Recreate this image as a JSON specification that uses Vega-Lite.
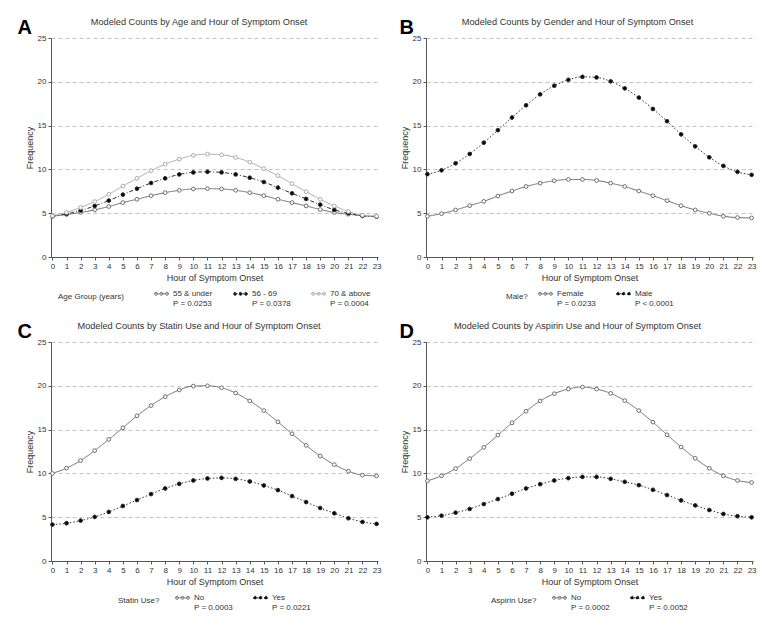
{
"$schema": "https://vega.github.io/schema/vega-lite/v6.json",
"padding": {"left": 17, "top": 17, "right": 5, "bottom": 5},
"config": {
  "font": "Liberation Sans",
  "view": {"stroke": null},
  "axis": {"labelFont": "Liberation Sans", "titleFont": "Liberation Sans", "labelColor": "#333", "titleColor": "#333", "domainColor": "#555", "tickColor": "#555", "labelFontSize": 8, "titleFontSize": 9, "titleFontWeight": "normal"},
  "legend": {"labelFont": "Liberation Sans", "titleFont": "Liberation Sans", "labelColor": "#333", "titleColor": "#333", "labelFontSize": 8, "titleFontSize": 8, "titleFontWeight": "normal", "layout": {"bottom": {"anchor": "middle"}}},
  "title": {"font": "Liberation Sans"},
  "line": {"interpolate": "monotone"}
},
"datasets": {
  "age": [
    {"hour":0,"group":"55 & under","count":4.66},{"hour":1,"group":"55 & under","count":4.85},{"hour":2,"group":"55 & under","count":5.08},{"hour":3,"group":"55 & under","count":5.38},{"hour":4,"group":"55 & under","count":5.76},{"hour":5,"group":"55 & under","count":6.21},{"hour":6,"group":"55 & under","count":6.59},{"hour":7,"group":"55 & under","count":7.0},{"hour":8,"group":"55 & under","count":7.35},{"hour":9,"group":"55 & under","count":7.61},{"hour":10,"group":"55 & under","count":7.77},{"hour":11,"group":"55 & under","count":7.8},{"hour":12,"group":"55 & under","count":7.77},{"hour":13,"group":"55 & under","count":7.61},{"hour":14,"group":"55 & under","count":7.35},{"hour":15,"group":"55 & under","count":7.0},{"hour":16,"group":"55 & under","count":6.59},{"hour":17,"group":"55 & under","count":6.21},{"hour":18,"group":"55 & under","count":5.83},{"hour":19,"group":"55 & under","count":5.42},{"hour":20,"group":"55 & under","count":5.08},{"hour":21,"group":"55 & under","count":4.89},{"hour":22,"group":"55 & under","count":4.7},{"hour":23,"group":"55 & under","count":4.62},
    {"hour":0,"group":"56 - 69","count":4.66},{"hour":1,"group":"56 - 69","count":4.92},{"hour":2,"group":"56 - 69","count":5.3},{"hour":3,"group":"56 - 69","count":5.83},{"hour":4,"group":"56 - 69","count":6.44},{"hour":5,"group":"56 - 69","count":7.12},{"hour":6,"group":"56 - 69","count":7.8},{"hour":7,"group":"56 - 69","count":8.45},{"hour":8,"group":"56 - 69","count":8.98},{"hour":9,"group":"56 - 69","count":9.43},{"hour":10,"group":"56 - 69","count":9.66},{"hour":11,"group":"56 - 69","count":9.73},{"hour":12,"group":"56 - 69","count":9.66},{"hour":13,"group":"56 - 69","count":9.43},{"hour":14,"group":"56 - 69","count":9.05},{"hour":15,"group":"56 - 69","count":8.56},{"hour":16,"group":"56 - 69","count":7.92},{"hour":17,"group":"56 - 69","count":7.27},{"hour":18,"group":"56 - 69","count":6.63},{"hour":19,"group":"56 - 69","count":5.98},{"hour":20,"group":"56 - 69","count":5.38},{"hour":21,"group":"56 - 69","count":5.0},{"hour":22,"group":"56 - 69","count":4.7},{"hour":23,"group":"56 - 69","count":4.62},
    {"hour":0,"group":"70 & above","count":4.7},{"hour":1,"group":"70 & above","count":5.08},{"hour":2,"group":"70 & above","count":5.64},{"hour":3,"group":"70 & above","count":6.33},{"hour":4,"group":"70 & above","count":7.16},{"hour":5,"group":"70 & above","count":8.1},{"hour":6,"group":"70 & above","count":8.98},{"hour":7,"group":"70 & above","count":9.85},{"hour":8,"group":"70 & above","count":10.6},{"hour":9,"group":"70 & above","count":11.17},{"hour":10,"group":"70 & above","count":11.6},{"hour":11,"group":"70 & above","count":11.74},{"hour":12,"group":"70 & above","count":11.67},{"hour":13,"group":"70 & above","count":11.36},{"hour":14,"group":"70 & above","count":10.83},{"hour":15,"group":"70 & above","count":10.08},{"hour":16,"group":"70 & above","count":9.28},{"hour":17,"group":"70 & above","count":8.37},{"hour":18,"group":"70 & above","count":7.46},{"hour":19,"group":"70 & above","count":6.59},{"hour":20,"group":"70 & above","count":5.83},{"hour":21,"group":"70 & above","count":5.19},{"hour":22,"group":"70 & above","count":4.77},{"hour":23,"group":"70 & above","count":4.66}
  ],
  "gender": [
    {"hour":0,"group":"Female","count":4.65},{"hour":1,"group":"Female","count":4.95},{"hour":2,"group":"Female","count":5.37},{"hour":3,"group":"Female","count":5.86},{"hour":4,"group":"Female","count":6.35},{"hour":5,"group":"Female","count":6.96},{"hour":6,"group":"Female","count":7.53},{"hour":7,"group":"Female","count":8.05},{"hour":8,"group":"Female","count":8.43},{"hour":9,"group":"Female","count":8.7},{"hour":10,"group":"Female","count":8.85},{"hour":11,"group":"Female","count":8.85},{"hour":12,"group":"Female","count":8.74},{"hour":13,"group":"Female","count":8.43},{"hour":14,"group":"Female","count":8.05},{"hour":15,"group":"Female","count":7.53},{"hour":16,"group":"Female","count":7.0},{"hour":17,"group":"Female","count":6.43},{"hour":18,"group":"Female","count":5.86},{"hour":19,"group":"Female","count":5.37},{"hour":20,"group":"Female","count":4.99},{"hour":21,"group":"Female","count":4.65},{"hour":22,"group":"Female","count":4.5},{"hour":23,"group":"Female","count":4.46},
    {"hour":0,"group":"Male","count":9.46},{"hour":1,"group":"Male","count":9.9},{"hour":2,"group":"Male","count":10.7},{"hour":3,"group":"Male","count":11.76},{"hour":4,"group":"Male","count":13.05},{"hour":5,"group":"Male","count":14.48},{"hour":6,"group":"Male","count":15.92},{"hour":7,"group":"Male","count":17.32},{"hour":8,"group":"Male","count":18.57},{"hour":9,"group":"Male","count":19.55},{"hour":10,"group":"Male","count":20.23},{"hour":11,"group":"Male","count":20.57},{"hour":12,"group":"Male","count":20.5},{"hour":13,"group":"Male","count":20.05},{"hour":14,"group":"Male","count":19.25},{"hour":15,"group":"Male","count":18.2},{"hour":16,"group":"Male","count":16.9},{"hour":17,"group":"Male","count":15.5},{"hour":18,"group":"Male","count":14.0},{"hour":19,"group":"Male","count":12.63},{"hour":20,"group":"Male","count":11.38},{"hour":21,"group":"Male","count":10.4},{"hour":22,"group":"Male","count":9.72},{"hour":23,"group":"Male","count":9.38}
  ],
  "statin": [
    {"hour":0,"group":"No","count":10.0},{"hour":1,"group":"No","count":10.6},{"hour":2,"group":"No","count":11.46},{"hour":3,"group":"No","count":12.6},{"hour":4,"group":"No","count":13.88},{"hour":5,"group":"No","count":15.2},{"hour":6,"group":"No","count":16.57},{"hour":7,"group":"No","count":17.74},{"hour":8,"group":"No","count":18.76},{"hour":9,"group":"No","count":19.52},{"hour":10,"group":"No","count":19.97},{"hour":11,"group":"No","count":20.0},{"hour":12,"group":"No","count":19.78},{"hour":13,"group":"No","count":19.17},{"hour":14,"group":"No","count":18.27},{"hour":15,"group":"No","count":17.17},{"hour":16,"group":"No","count":15.88},{"hour":17,"group":"No","count":14.52},{"hour":18,"group":"No","count":13.2},{"hour":19,"group":"No","count":11.99},{"hour":20,"group":"No","count":11.0},{"hour":21,"group":"No","count":10.25},{"hour":22,"group":"No","count":9.8},{"hour":23,"group":"No","count":9.72},
    {"hour":0,"group":"Yes","count":4.16},{"hour":1,"group":"Yes","count":4.31},{"hour":2,"group":"Yes","count":4.61},{"hour":3,"group":"Yes","count":5.03},{"hour":4,"group":"Yes","count":5.6},{"hour":5,"group":"Yes","count":6.28},{"hour":6,"group":"Yes","count":6.96},{"hour":7,"group":"Yes","count":7.64},{"hour":8,"group":"Yes","count":8.28},{"hour":9,"group":"Yes","count":8.81},{"hour":10,"group":"Yes","count":9.19},{"hour":11,"group":"Yes","count":9.42},{"hour":12,"group":"Yes","count":9.49},{"hour":13,"group":"Yes","count":9.38},{"hour":14,"group":"Yes","count":9.08},{"hour":15,"group":"Yes","count":8.62},{"hour":16,"group":"Yes","count":8.09},{"hour":17,"group":"Yes","count":7.41},{"hour":18,"group":"Yes","count":6.73},{"hour":19,"group":"Yes","count":6.05},{"hour":20,"group":"Yes","count":5.45},{"hour":21,"group":"Yes","count":4.88},{"hour":22,"group":"Yes","count":4.46},{"hour":23,"group":"Yes","count":4.24}
  ],
  "aspirin": [
    {"hour":0,"group":"No","count":9.15},{"hour":1,"group":"No","count":9.72},{"hour":2,"group":"No","count":10.55},{"hour":3,"group":"No","count":11.69},{"hour":4,"group":"No","count":12.97},{"hour":5,"group":"No","count":14.37},{"hour":6,"group":"No","count":15.77},{"hour":7,"group":"No","count":17.1},{"hour":8,"group":"No","count":18.27},{"hour":9,"group":"No","count":19.1},{"hour":10,"group":"No","count":19.63},{"hour":11,"group":"No","count":19.86},{"hour":12,"group":"No","count":19.63},{"hour":13,"group":"No","count":19.14},{"hour":14,"group":"No","count":18.31},{"hour":15,"group":"No","count":17.17},{"hour":16,"group":"No","count":15.85},{"hour":17,"group":"No","count":14.41},{"hour":18,"group":"No","count":13.01},{"hour":19,"group":"No","count":11.72},{"hour":20,"group":"No","count":10.59},{"hour":21,"group":"No","count":9.72},{"hour":22,"group":"No","count":9.19},{"hour":23,"group":"No","count":8.96},
    {"hour":0,"group":"Yes","count":4.99},{"hour":1,"group":"Yes","count":5.18},{"hour":2,"group":"Yes","count":5.52},{"hour":3,"group":"Yes","count":5.94},{"hour":4,"group":"Yes","count":6.5},{"hour":5,"group":"Yes","count":7.07},{"hour":6,"group":"Yes","count":7.68},{"hour":7,"group":"Yes","count":8.28},{"hour":8,"group":"Yes","count":8.77},{"hour":9,"group":"Yes","count":9.19},{"hour":10,"group":"Yes","count":9.46},{"hour":11,"group":"Yes","count":9.6},{"hour":12,"group":"Yes","count":9.6},{"hour":13,"group":"Yes","count":9.38},{"hour":14,"group":"Yes","count":9.04},{"hour":15,"group":"Yes","count":8.66},{"hour":16,"group":"Yes","count":8.13},{"hour":17,"group":"Yes","count":7.53},{"hour":18,"group":"Yes","count":6.92},{"hour":19,"group":"Yes","count":6.35},{"hour":20,"group":"Yes","count":5.82},{"hour":21,"group":"Yes","count":5.37},{"hour":22,"group":"Yes","count":5.11},{"hour":23,"group":"Yes","count":4.99}
  ]
},
"spacing": 13,
"resolve": {"scale": {"x": "independent", "y": "independent", "stroke": "independent", "fill": "independent", "strokeDash": "independent"}, "legend": {"stroke": "independent", "fill": "independent"}},
"vconcat": [
 {"hconcat": [
  {
   "width": 327, "height": 219,
   "data": {"name": "age"},
   "title": {"text": "Modeled Counts by Age and Hour of Symptom Onset", "anchor": "middle", "frame": "bounds", "fontSize": 9.2, "fontWeight": "normal", "color": "#333", "offset": -10},
   "encoding": {
     "x": {"field": "hour", "type": "quantitative", "scale": {"domain": [-0.1, 23.1], "nice": false, "zero": false}, "axis": {"values": [0,1,2,3,4,5,6,7,8,9,10,11,12,13,14,15,16,17,18,19,20,21,22,23], "title": "Hour of Symptom Onset", "grid": false, "tickSize": 3, "labelPadding": 2, "titlePadding": 3, "labelFlush": false, "labelOverlap": false}},
     "y": {"field": "count", "type": "quantitative", "scale": {"domain": [0, 25], "nice": false}, "axis": {"values": [0,5,10,15,20,25], "title": "Frequency", "grid": true, "gridDash": [4,3], "gridColor": "#c4c4c4", "tickSize": 3, "labelPadding": 2, "titlePadding": 3}}
   },
   "layer": [
     {"mark": {"type": "line", "strokeWidth": 1},
      "encoding": {
        "stroke": {"field": "group", "type": "nominal", "scale": {"domain": ["55 & under", "56 - 69", "70 & above"], "range": ["#6e6e6e", "#333333", "#ababab"]}, "legend": {"title": "Age Group (years)", "orient": "bottom", "direction": "horizontal", "titleOrient": "left", "titlePadding": 30, "offset": 4, "columnPadding": 18, "symbolType": "M-1,0H1M-0.56,0A0.22,0.22,0,1,1,-1,0A0.22,0.22,0,1,1,-0.56,0ZM0.22,0A0.22,0.22,0,1,1,-0.22,0A0.22,0.22,0,1,1,0.22,0ZM1,0A0.22,0.22,0,1,1,0.56,0A0.22,0.22,0,1,1,1,0Z", "symbolSize": 196, "symbolStrokeWidth": 1, "labelExpr": "datum.label == '55 & under' ? ['55 & under', 'P = 0.0253'] : datum.label == '56 - 69' ? ['56 - 69', 'P = 0.0378'] : ['70 & above', 'P = 0.0004']"}},
        "strokeDash": {"field": "group", "type": "nominal", "scale": {"domain": ["55 & under", "56 - 69", "70 & above"], "range": [[1,0],[4,2,1,2],[1,0]]}, "legend": null}
      }},
     {"mark": {"type": "point", "shape": "circle", "size": 14, "strokeWidth": 1, "opacity": 1},
      "encoding": {
        "x": {"field": "hour", "type": "quantitative", "axis": {"orient": "top", "title": "A", "labels": false, "ticks": false, "domain": false, "grid": false, "titleFontSize": 20, "titleFontWeight": "bold", "titleColor": "black", "titleAnchor": "start", "titleAlign": "left", "titleBaseline": "alphabetic", "titleX": -34, "titleY": -5}},
        "stroke": {"field": "group", "type": "nominal", "scale": {"domain": ["55 & under", "56 - 69", "70 & above"], "range": ["#6e6e6e", "#333333", "#ababab"]}, "legend": {"title": "Age Group (years)", "orient": "bottom", "direction": "horizontal", "titleOrient": "left", "titlePadding": 30, "offset": 4, "columnPadding": 18, "symbolType": "M-1,0H1M-0.56,0A0.22,0.22,0,1,1,-1,0A0.22,0.22,0,1,1,-0.56,0ZM0.22,0A0.22,0.22,0,1,1,-0.22,0A0.22,0.22,0,1,1,0.22,0ZM1,0A0.22,0.22,0,1,1,0.56,0A0.22,0.22,0,1,1,1,0Z", "symbolSize": 196, "symbolStrokeWidth": 1, "labelExpr": "datum.label == '55 & under' ? ['55 & under', 'P = 0.0253'] : datum.label == '56 - 69' ? ['56 - 69', 'P = 0.0378'] : ['70 & above', 'P = 0.0004']"}},
        "fill": {"field": "group", "type": "nominal", "scale": {"domain": ["55 & under", "56 - 69", "70 & above"], "range": ["#ffffff", "#000000", "#ffffff"]}, "legend": {"title": "Age Group (years)", "orient": "bottom", "direction": "horizontal", "titleOrient": "left", "titlePadding": 30, "offset": 4, "columnPadding": 18, "symbolType": "M-1,0H1M-0.56,0A0.22,0.22,0,1,1,-1,0A0.22,0.22,0,1,1,-0.56,0ZM0.22,0A0.22,0.22,0,1,1,-0.22,0A0.22,0.22,0,1,1,0.22,0ZM1,0A0.22,0.22,0,1,1,0.56,0A0.22,0.22,0,1,1,1,0Z", "symbolSize": 196, "symbolStrokeWidth": 1, "labelExpr": "datum.label == '55 & under' ? ['55 & under', 'P = 0.0253'] : datum.label == '56 - 69' ? ['56 - 69', 'P = 0.0378'] : ['70 & above', 'P = 0.0004']"}}
      }}
   ],
   "resolve": {"axis": {"x": "independent"}}
  },
  {
   "width": 327, "height": 219,
   "data": {"name": "gender"},
   "title": {"text": "Modeled Counts by Gender and Hour of Symptom Onset", "anchor": "middle", "frame": "bounds", "fontSize": 9.2, "fontWeight": "normal", "color": "#333", "offset": -10},
   "encoding": {
     "x": {"field": "hour", "type": "quantitative", "scale": {"domain": [-0.1, 23.1], "nice": false, "zero": false}, "axis": {"values": [0,1,2,3,4,5,6,7,8,9,10,11,12,13,14,15,16,17,18,19,20,21,22,23], "title": "Hour of Symptom Onset", "grid": false, "tickSize": 3, "labelPadding": 2, "titlePadding": 3, "labelFlush": false, "labelOverlap": false}},
     "y": {"field": "count", "type": "quantitative", "scale": {"domain": [0, 25], "nice": false}, "axis": {"values": [0,5,10,15,20,25], "title": "Frequency", "grid": true, "gridDash": [4,3], "gridColor": "#c4c4c4", "tickSize": 3, "labelPadding": 2, "titlePadding": 3}}
   },
   "layer": [
     {"mark": {"type": "line", "strokeWidth": 1},
      "encoding": {
        "stroke": {"field": "group", "type": "nominal", "scale": {"domain": ["Female", "Male"], "range": ["#6e6e6e", "#333333"]}, "legend": {"title": "Male?", "orient": "bottom", "direction": "horizontal", "titleOrient": "left", "titlePadding": 10, "offset": 4, "columnPadding": 18, "symbolType": "M-1,0H1M-0.56,0A0.22,0.22,0,1,1,-1,0A0.22,0.22,0,1,1,-0.56,0ZM0.22,0A0.22,0.22,0,1,1,-0.22,0A0.22,0.22,0,1,1,0.22,0ZM1,0A0.22,0.22,0,1,1,0.56,0A0.22,0.22,0,1,1,1,0Z", "symbolSize": 196, "symbolStrokeWidth": 1, "labelExpr": "datum.label == 'Female' ? ['Female', 'P = 0.0233'] : ['Male', 'P < 0.0001']"}},
        "strokeDash": {"field": "group", "type": "nominal", "scale": {"domain": ["Female", "Male"], "range": [[1,0],[1.5,2]]}, "legend": null}
      }},
     {"mark": {"type": "point", "shape": "circle", "size": 14, "strokeWidth": 1, "opacity": 1},
      "encoding": {
        "x": {"field": "hour", "type": "quantitative", "axis": {"orient": "top", "title": "B", "labels": false, "ticks": false, "domain": false, "grid": false, "titleFontSize": 20, "titleFontWeight": "bold", "titleColor": "black", "titleAnchor": "start", "titleAlign": "left", "titleBaseline": "alphabetic", "titleX": -27, "titleY": -5}},
        "stroke": {"field": "group", "type": "nominal", "scale": {"domain": ["Female", "Male"], "range": ["#6e6e6e", "#333333"]}, "legend": {"title": "Male?", "orient": "bottom", "direction": "horizontal", "titleOrient": "left", "titlePadding": 10, "offset": 4, "columnPadding": 18, "symbolType": "M-1,0H1M-0.56,0A0.22,0.22,0,1,1,-1,0A0.22,0.22,0,1,1,-0.56,0ZM0.22,0A0.22,0.22,0,1,1,-0.22,0A0.22,0.22,0,1,1,0.22,0ZM1,0A0.22,0.22,0,1,1,0.56,0A0.22,0.22,0,1,1,1,0Z", "symbolSize": 196, "symbolStrokeWidth": 1, "labelExpr": "datum.label == 'Female' ? ['Female', 'P = 0.0233'] : ['Male', 'P < 0.0001']"}},
        "fill": {"field": "group", "type": "nominal", "scale": {"domain": ["Female", "Male"], "range": ["#ffffff", "#000000"]}, "legend": {"title": "Male?", "orient": "bottom", "direction": "horizontal", "titleOrient": "left", "titlePadding": 10, "offset": 4, "columnPadding": 18, "symbolType": "M-1,0H1M-0.56,0A0.22,0.22,0,1,1,-1,0A0.22,0.22,0,1,1,-0.56,0ZM0.22,0A0.22,0.22,0,1,1,-0.22,0A0.22,0.22,0,1,1,0.22,0ZM1,0A0.22,0.22,0,1,1,0.56,0A0.22,0.22,0,1,1,1,0Z", "symbolSize": 196, "symbolStrokeWidth": 1, "labelExpr": "datum.label == 'Female' ? ['Female', 'P = 0.0233'] : ['Male', 'P < 0.0001']"}}
      }}
   ],
   "resolve": {"axis": {"x": "independent"}}
  }
 ], "spacing": 17,
 "resolve": {"scale": {"x": "independent", "y": "independent", "stroke": "independent", "fill": "independent", "strokeDash": "independent"}, "legend": {"stroke": "independent", "fill": "independent"}}},
 {"hconcat": [
  {
   "width": 327, "height": 219,
   "data": {"name": "statin"},
   "title": {"text": "Modeled Counts by Statin Use and Hour of Symptom Onset", "anchor": "middle", "frame": "bounds", "fontSize": 9.2, "fontWeight": "normal", "color": "#333", "offset": -10},
   "encoding": {
     "x": {"field": "hour", "type": "quantitative", "scale": {"domain": [-0.1, 23.1], "nice": false, "zero": false}, "axis": {"values": [0,1,2,3,4,5,6,7,8,9,10,11,12,13,14,15,16,17,18,19,20,21,22,23], "title": "Hour of Symptom Onset", "grid": false, "tickSize": 3, "labelPadding": 2, "titlePadding": 3, "labelFlush": false, "labelOverlap": false}},
     "y": {"field": "count", "type": "quantitative", "scale": {"domain": [0, 25], "nice": false}, "axis": {"values": [0,5,10,15,20,25], "title": "Frequency", "grid": true, "gridDash": [4,3], "gridColor": "#c4c4c4", "tickSize": 3, "labelPadding": 2, "titlePadding": 3}}
   },
   "layer": [
     {"mark": {"type": "line", "strokeWidth": 1},
      "encoding": {
        "stroke": {"field": "group", "type": "nominal", "scale": {"domain": ["No", "Yes"], "range": ["#6e6e6e", "#333333"]}, "legend": {"title": "Statin Use?", "orient": "bottom", "direction": "horizontal", "titleOrient": "left", "titlePadding": 15, "offset": 4, "columnPadding": 18, "symbolType": "M-1,0H1M-0.56,0A0.22,0.22,0,1,1,-1,0A0.22,0.22,0,1,1,-0.56,0ZM0.22,0A0.22,0.22,0,1,1,-0.22,0A0.22,0.22,0,1,1,0.22,0ZM1,0A0.22,0.22,0,1,1,0.56,0A0.22,0.22,0,1,1,1,0Z", "symbolSize": 196, "symbolStrokeWidth": 1, "labelExpr": "datum.label == 'No' ? ['No', 'P = 0.0003'] : ['Yes', 'P = 0.0221']"}},
        "strokeDash": {"field": "group", "type": "nominal", "scale": {"domain": ["No", "Yes"], "range": [[1,0],[1.5,2]]}, "legend": null}
      }},
     {"mark": {"type": "point", "shape": "circle", "size": 14, "strokeWidth": 1, "opacity": 1},
      "encoding": {
        "x": {"field": "hour", "type": "quantitative", "axis": {"orient": "top", "title": "C", "labels": false, "ticks": false, "domain": false, "grid": false, "titleFontSize": 20, "titleFontWeight": "bold", "titleColor": "black", "titleAnchor": "start", "titleAlign": "left", "titleBaseline": "alphabetic", "titleX": -34, "titleY": -5}},
        "stroke": {"field": "group", "type": "nominal", "scale": {"domain": ["No", "Yes"], "range": ["#6e6e6e", "#333333"]}, "legend": {"title": "Statin Use?", "orient": "bottom", "direction": "horizontal", "titleOrient": "left", "titlePadding": 15, "offset": 4, "columnPadding": 18, "symbolType": "M-1,0H1M-0.56,0A0.22,0.22,0,1,1,-1,0A0.22,0.22,0,1,1,-0.56,0ZM0.22,0A0.22,0.22,0,1,1,-0.22,0A0.22,0.22,0,1,1,0.22,0ZM1,0A0.22,0.22,0,1,1,0.56,0A0.22,0.22,0,1,1,1,0Z", "symbolSize": 196, "symbolStrokeWidth": 1, "labelExpr": "datum.label == 'No' ? ['No', 'P = 0.0003'] : ['Yes', 'P = 0.0221']"}},
        "fill": {"field": "group", "type": "nominal", "scale": {"domain": ["No", "Yes"], "range": ["#ffffff", "#000000"]}, "legend": {"title": "Statin Use?", "orient": "bottom", "direction": "horizontal", "titleOrient": "left", "titlePadding": 15, "offset": 4, "columnPadding": 18, "symbolType": "M-1,0H1M-0.56,0A0.22,0.22,0,1,1,-1,0A0.22,0.22,0,1,1,-0.56,0ZM0.22,0A0.22,0.22,0,1,1,-0.22,0A0.22,0.22,0,1,1,0.22,0ZM1,0A0.22,0.22,0,1,1,0.56,0A0.22,0.22,0,1,1,1,0Z", "symbolSize": 196, "symbolStrokeWidth": 1, "labelExpr": "datum.label == 'No' ? ['No', 'P = 0.0003'] : ['Yes', 'P = 0.0221']"}}
      }}
   ],
   "resolve": {"axis": {"x": "independent"}}
  },
  {
   "width": 327, "height": 219,
   "data": {"name": "aspirin"},
   "title": {"text": "Modeled Counts by Aspirin Use and Hour of Symptom Onset", "anchor": "middle", "frame": "bounds", "fontSize": 9.2, "fontWeight": "normal", "color": "#333", "offset": -10},
   "encoding": {
     "x": {"field": "hour", "type": "quantitative", "scale": {"domain": [-0.1, 23.1], "nice": false, "zero": false}, "axis": {"values": [0,1,2,3,4,5,6,7,8,9,10,11,12,13,14,15,16,17,18,19,20,21,22,23], "title": "Hour of Symptom Onset", "grid": false, "tickSize": 3, "labelPadding": 2, "titlePadding": 3, "labelFlush": false, "labelOverlap": false}},
     "y": {"field": "count", "type": "quantitative", "scale": {"domain": [0, 25], "nice": false}, "axis": {"values": [0,5,10,15,20,25], "title": "Frequency", "grid": true, "gridDash": [4,3], "gridColor": "#c4c4c4", "tickSize": 3, "labelPadding": 2, "titlePadding": 3}}
   },
   "layer": [
     {"mark": {"type": "line", "strokeWidth": 1},
      "encoding": {
        "stroke": {"field": "group", "type": "nominal", "scale": {"domain": ["No", "Yes"], "range": ["#6e6e6e", "#333333"]}, "legend": {"title": "Aspirin Use?", "orient": "bottom", "direction": "horizontal", "titleOrient": "left", "titlePadding": 15, "offset": 4, "columnPadding": 18, "symbolType": "M-1,0H1M-0.56,0A0.22,0.22,0,1,1,-1,0A0.22,0.22,0,1,1,-0.56,0ZM0.22,0A0.22,0.22,0,1,1,-0.22,0A0.22,0.22,0,1,1,0.22,0ZM1,0A0.22,0.22,0,1,1,0.56,0A0.22,0.22,0,1,1,1,0Z", "symbolSize": 196, "symbolStrokeWidth": 1, "labelExpr": "datum.label == 'No' ? ['No', 'P = 0.0002'] : ['Yes', 'P = 0.0052']"}},
        "strokeDash": {"field": "group", "type": "nominal", "scale": {"domain": ["No", "Yes"], "range": [[1,0],[1.5,2]]}, "legend": null}
      }},
     {"mark": {"type": "point", "shape": "circle", "size": 14, "strokeWidth": 1, "opacity": 1},
      "encoding": {
        "x": {"field": "hour", "type": "quantitative", "axis": {"orient": "top", "title": "D", "labels": false, "ticks": false, "domain": false, "grid": false, "titleFontSize": 20, "titleFontWeight": "bold", "titleColor": "black", "titleAnchor": "start", "titleAlign": "left", "titleBaseline": "alphabetic", "titleX": -27, "titleY": -5}},
        "stroke": {"field": "group", "type": "nominal", "scale": {"domain": ["No", "Yes"], "range": ["#6e6e6e", "#333333"]}, "legend": {"title": "Aspirin Use?", "orient": "bottom", "direction": "horizontal", "titleOrient": "left", "titlePadding": 15, "offset": 4, "columnPadding": 18, "symbolType": "M-1,0H1M-0.56,0A0.22,0.22,0,1,1,-1,0A0.22,0.22,0,1,1,-0.56,0ZM0.22,0A0.22,0.22,0,1,1,-0.22,0A0.22,0.22,0,1,1,0.22,0ZM1,0A0.22,0.22,0,1,1,0.56,0A0.22,0.22,0,1,1,1,0Z", "symbolSize": 196, "symbolStrokeWidth": 1, "labelExpr": "datum.label == 'No' ? ['No', 'P = 0.0002'] : ['Yes', 'P = 0.0052']"}},
        "fill": {"field": "group", "type": "nominal", "scale": {"domain": ["No", "Yes"], "range": ["#ffffff", "#000000"]}, "legend": {"title": "Aspirin Use?", "orient": "bottom", "direction": "horizontal", "titleOrient": "left", "titlePadding": 15, "offset": 4, "columnPadding": 18, "symbolType": "M-1,0H1M-0.56,0A0.22,0.22,0,1,1,-1,0A0.22,0.22,0,1,1,-0.56,0ZM0.22,0A0.22,0.22,0,1,1,-0.22,0A0.22,0.22,0,1,1,0.22,0ZM1,0A0.22,0.22,0,1,1,0.56,0A0.22,0.22,0,1,1,1,0Z", "symbolSize": 196, "symbolStrokeWidth": 1, "labelExpr": "datum.label == 'No' ? ['No', 'P = 0.0002'] : ['Yes', 'P = 0.0052']"}}
      }}
   ],
   "resolve": {"axis": {"x": "independent"}}
  }
 ], "spacing": 17,
 "resolve": {"scale": {"x": "independent", "y": "independent", "stroke": "independent", "fill": "independent", "strokeDash": "independent"}, "legend": {"stroke": "independent", "fill": "independent"}}}
]
}
